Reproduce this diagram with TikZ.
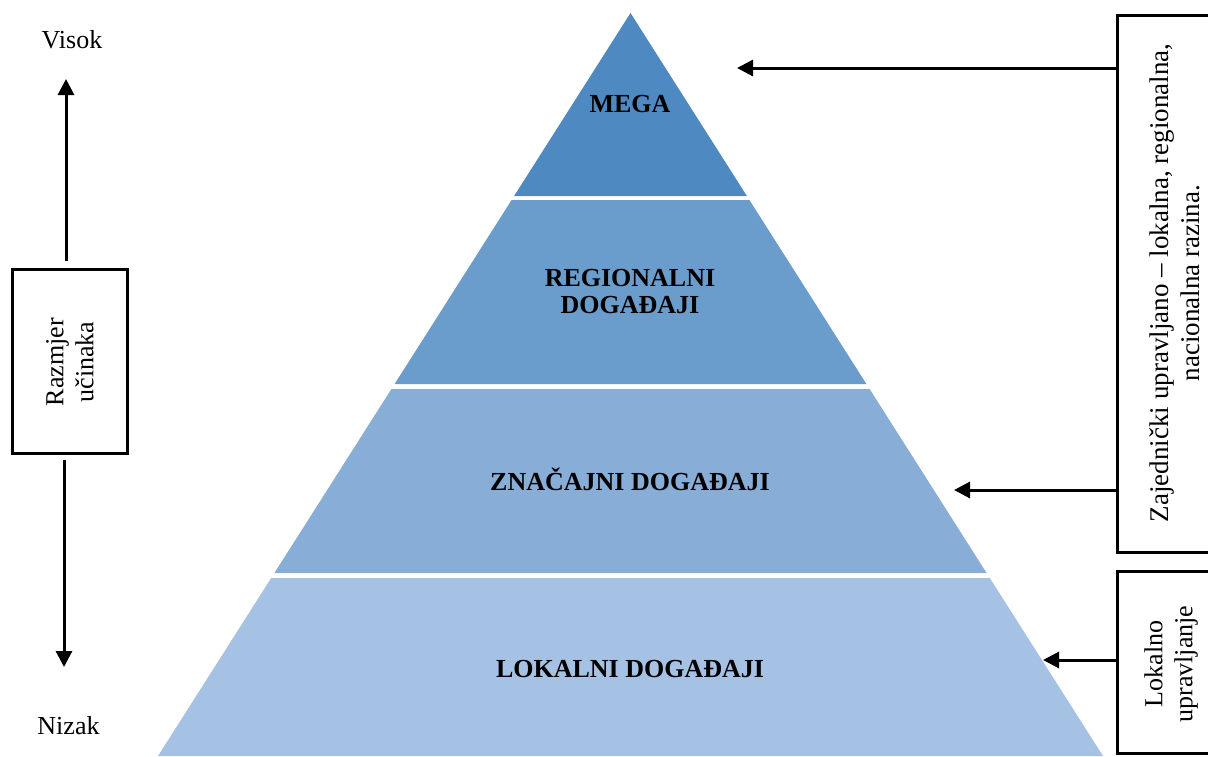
\documentclass[tikz,border=0pt]{standalone}
\usepackage{fontspec}
\setmainfont{Liberation Serif}
\usetikzlibrary{arrows.meta}
\definecolor{megac}{HTML}{4F89C1}
\definecolor{regc}{HTML}{6A9CCC}
\definecolor{znac}{HTML}{88ADD6}
\definecolor{lokc}{HTML}{A5C1E3}
\begin{document}
\begin{tikzpicture}[x=1pt,y=-1pt,
  lab/.style={font=\fontsize{26}{27}\selectfont\bfseries, align=center, inner sep=0pt},
  side/.style={font=\fontsize{26}{30}\selectfont, align=center, inner sep=0pt},
  box/.style={draw=black, line width=3pt, inner sep=0pt},
  arr/.style={line width=3pt, -{Triangle[length=16pt,width=16pt]}},
]
\useasboundingbox (0,0) rectangle (1208,756);
\clip (0,0) rectangle (1208,756);
% pyramid bands
\fill[megac] (630.5,13) -- (746.9,196) -- (514.1,196) -- cycle;
\fill[regc] (511.6,200) -- (749.4,200) -- (866.4,384) -- (394.6,384) -- cycle;
\fill[znac] (391.4,389) -- (869.6,389) -- (986.6,573) -- (274.4,573) -- cycle;
\fill[lokc] (271.2,578) -- (989.8,578) -- (1103,756) -- (158,756) -- cycle;
% band labels
\node[lab, anchor=base] (mega) at (630,112) {MEGA};
\node[lab] (reg) at (630,292) {REGIONALNI\\DOGAĐAJI};
\node[lab, anchor=base] (zna) at (630,490) {ZNAČAJNI DOGAĐAJI};
\node[lab, anchor=base] (lok) at (630,677) {LOKALNI DOGAĐAJI};
% left scale
\node[side, anchor=base] (visok) at (72,48) {Visok};
\node[side, anchor=base] (nizak) at (68.5,734) {Nizak};
\node[box, minimum width=115pt, minimum height=184pt] (raz) at (69.5,361) {};
\node[side, rotate=90] (raztxt) at (70,362) {Razmjer\\učinaka};
\coordinate (hitip) at (66,79);
\coordinate (lotip) at (64,667);
\draw[arr] ([xshift=-3.5pt,yshift=7pt]raz.north) -- (hitip);
\draw[arr] ([xshift=-5.5pt,yshift=-5pt]raz.south) -- (lotip);
% right boxes
\node[box, minimum width=113pt, minimum height=537pt] (zb) at (1173.5,283.5) {};
\node[side, rotate=90, font=\fontsize{27}{31}\selectfont] (zbtxt) at (1175,283) {Zajednički upravljano – lokalna, regionalna,\\nacionalna razina.};
\node[box, minimum width=113pt, minimum height=182pt] (lb) at (1173.5,662) {};
\node[side, rotate=90] (lbtxt) at (1171,664) {Lokalno\\upravljanje};
\coordinate (t1) at (737,68);
\coordinate (t2) at (954,490);
\coordinate (t3) at (1043,660);
\draw[arr] (zb.west |- t1) -- (t1);
\draw[arr] (zb.west |- t2) -- (t2);
\draw[arr] (lb.west |- t3) -- (t3);
\end{tikzpicture}
\end{document}
